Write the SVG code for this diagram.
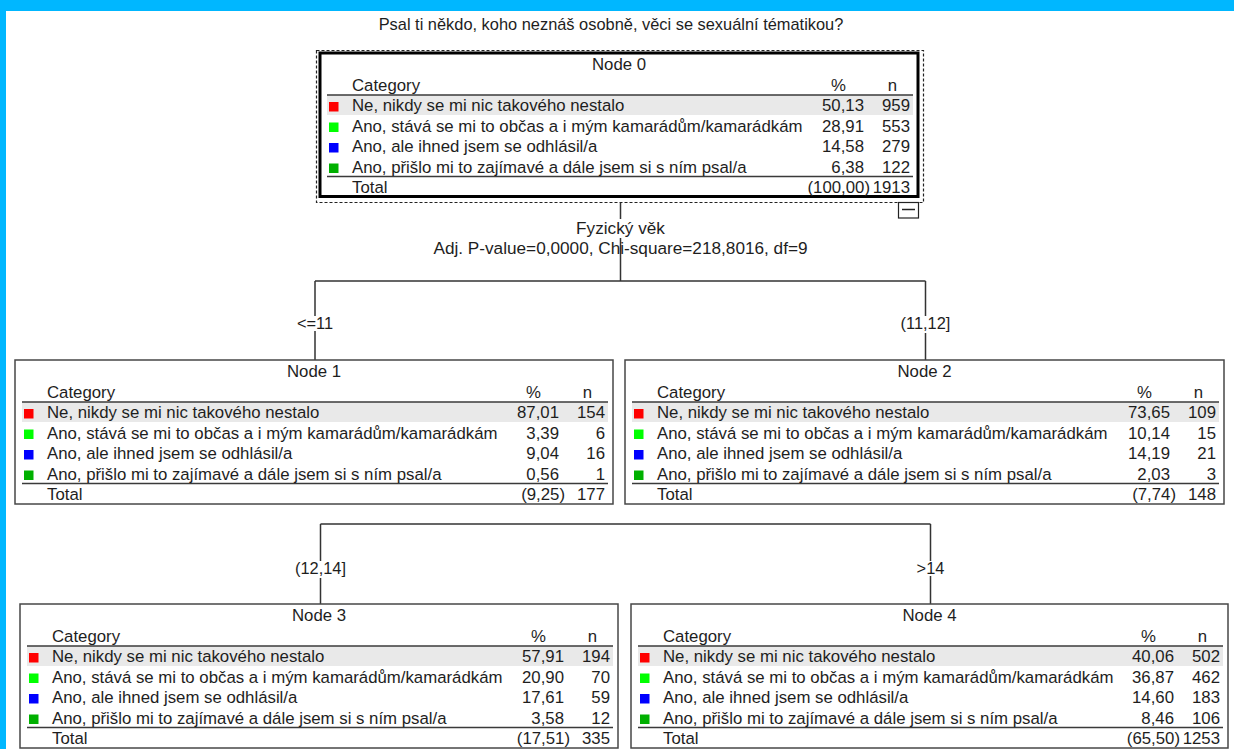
<svg xmlns="http://www.w3.org/2000/svg" width="1234" height="749" viewBox="0 0 1234 749">
<style>
text{font-family:"Liberation Sans",Arial,sans-serif;fill:#1e1e1e}
.t{font-size:16.8px}
.l{font-size:16.4px}
.s{font-size:17.2px}
.m{text-anchor:middle}
.e{text-anchor:end}
.box{fill:#fff;stroke:#474747;stroke-width:1.5}
.box0{fill:#fff;stroke:#000;stroke-width:3}
.hl{fill:#e9e9e9}
.rule{stroke:#3a3a3a;stroke-width:1.6}
.con{fill:none;stroke:#333;stroke-width:1.5}
.r{fill:#ff0000}.g{fill:#00ff00}.b{fill:#0000ff}.d{fill:#00b000}
</style>
<rect x="0" y="0" width="1234" height="749" fill="#00b7ff"/>
<rect x="6" y="11" width="1228" height="738" fill="#fff"/>
<text class="l m" x="611" y="29.5">Psal ti někdo, koho neznáš osobně, věci se sexuální tématikou?</text>

<g id="connectors">
<path class="con" d="M620.5,203 V281 M315,281 H925.5 M315,281 V360 M925.5,281 V360"/>
<path class="con" d="M320.5,524 H930.5 M320.5,524 V604 M930.5,524 V604"/>
<rect x="570" y="219" width="101" height="19" fill="#fff"/>
<text class="s m" x="620.5" y="233.5">Fyzický věk</text>
<text class="s m" x="620.5" y="254">Adj. P-value=0,0000, Chi-square=218,8016, df=9</text>
<rect x="296" y="316" width="38" height="15" fill="#fff"/>
<text class="l m" x="315" y="329">&lt;=11</text>
<rect x="900" y="316" width="51" height="17" fill="#fff"/>
<text class="l m" x="925.5" y="329">(11,12]</text>
<rect x="295" y="561" width="51" height="17" fill="#fff"/>
<text class="l m" x="320.5" y="574">(12,14]</text>
<rect x="915" y="561" width="31" height="15" fill="#fff"/>
<text class="l m" x="930.5" y="574">&gt;14</text>
</g>

<g id="node0">
<rect x="316.5" y="50.5" width="607" height="152" fill="none" stroke="#222" stroke-width="1.2" stroke-dasharray="3,2"/>
<rect x="898.5" y="202.5" width="20" height="15.5" fill="#fff" stroke="#222" stroke-width="1.2"/>
<line x1="902" y1="209.5" x2="915" y2="209.5" stroke="#222" stroke-width="1.5"/>
<g transform="translate(320,53)">
<rect class="box0" x="0" y="0" width="598" height="143.5"/>
<rect class="hl" x="7" y="42" width="586" height="20"/>
<line class="rule" x1="7" y1="42" x2="593" y2="42"/>
<line class="rule" x1="7" y1="123.5" x2="593" y2="123.5"/>
<text class="t m" x="299" y="17">Node 0</text>
<text class="t" x="32" y="38">Category</text>
<text class="t e" x="526" y="38">%</text>
<text class="t e" x="577" y="38">n</text>
<rect class="r" x="9" y="49" width="9.5" height="9.5"/>
<rect class="g" x="9" y="69.5" width="9.5" height="9.5"/>
<rect class="b" x="9" y="90" width="9.5" height="9.5"/>
<rect class="d" x="9" y="110.5" width="9.5" height="9.5"/>
<text class="t" x="32" y="58">Ne, nikdy se mi nic takového nestalo</text>
<text class="t" x="32" y="78.5">Ano, stává se mi to občas a i mým kamarádům/kamarádkám</text>
<text class="t" x="32" y="99">Ano, ale ihned jsem se odhlásil/a</text>
<text class="t" x="32" y="119.5">Ano, přišlo mi to zajímavé a dále jsem si s ním psal/a</text>
<text class="t" x="32" y="139.5">Total</text>
<text class="t e" x="544" y="58">50,13</text><text class="t e" x="590" y="58">959</text>
<text class="t e" x="544" y="78.5">28,91</text><text class="t e" x="590" y="78.5">553</text>
<text class="t e" x="544" y="99">14,58</text><text class="t e" x="590" y="99">279</text>
<text class="t e" x="544" y="119.5">6,38</text><text class="t e" x="590" y="119.5">122</text>
<text class="t e" x="550" y="139.5">(100,00)</text><text class="t e" x="590" y="139.5">1913</text>
</g>
</g>

<g id="node1" transform="translate(15,360)">
<rect class="box" x="0" y="0" width="598" height="144"/>
<rect class="hl" x="7" y="42" width="586" height="20"/>
<line class="rule" x1="7" y1="42" x2="593" y2="42"/>
<line class="rule" x1="7" y1="123.5" x2="593" y2="123.5"/>
<text class="t m" x="299" y="17">Node 1</text>
<text class="t" x="32" y="38">Category</text>
<text class="t e" x="526" y="38">%</text>
<text class="t e" x="577" y="38">n</text>
<rect class="r" x="9" y="49" width="9.5" height="9.5"/>
<rect class="g" x="9" y="69.5" width="9.5" height="9.5"/>
<rect class="b" x="9" y="90" width="9.5" height="9.5"/>
<rect class="d" x="9" y="110.5" width="9.5" height="9.5"/>
<text class="t" x="32" y="58">Ne, nikdy se mi nic takového nestalo</text>
<text class="t" x="32" y="78.5">Ano, stává se mi to občas a i mým kamarádům/kamarádkám</text>
<text class="t" x="32" y="99">Ano, ale ihned jsem se odhlásil/a</text>
<text class="t" x="32" y="119.5">Ano, přišlo mi to zajímavé a dále jsem si s ním psal/a</text>
<text class="t" x="32" y="139.5">Total</text>
<text class="t e" x="544" y="58">87,01</text><text class="t e" x="590" y="58">154</text>
<text class="t e" x="544" y="78.5">3,39</text><text class="t e" x="590" y="78.5">6</text>
<text class="t e" x="544" y="99">9,04</text><text class="t e" x="590" y="99">16</text>
<text class="t e" x="544" y="119.5">0,56</text><text class="t e" x="590" y="119.5">1</text>
<text class="t e" x="550" y="139.5">(9,25)</text><text class="t e" x="590" y="139.5">177</text>
</g>

<g id="node2" transform="translate(625,360)">
<rect class="box" x="0" y="0" width="599" height="144"/>
<rect class="hl" x="7" y="42" width="587" height="20"/>
<line class="rule" x1="7" y1="42" x2="594" y2="42"/>
<line class="rule" x1="7" y1="123.5" x2="594" y2="123.5"/>
<text class="t m" x="299.5" y="17">Node 2</text>
<text class="t" x="32" y="38">Category</text>
<text class="t e" x="527" y="38">%</text>
<text class="t e" x="578" y="38">n</text>
<rect class="r" x="9" y="49" width="9.5" height="9.5"/>
<rect class="g" x="9" y="69.5" width="9.5" height="9.5"/>
<rect class="b" x="9" y="90" width="9.5" height="9.5"/>
<rect class="d" x="9" y="110.5" width="9.5" height="9.5"/>
<text class="t" x="32" y="58">Ne, nikdy se mi nic takového nestalo</text>
<text class="t" x="32" y="78.5">Ano, stává se mi to občas a i mým kamarádům/kamarádkám</text>
<text class="t" x="32" y="99">Ano, ale ihned jsem se odhlásil/a</text>
<text class="t" x="32" y="119.5">Ano, přišlo mi to zajímavé a dále jsem si s ním psal/a</text>
<text class="t" x="32" y="139.5">Total</text>
<text class="t e" x="545" y="58">73,65</text><text class="t e" x="591" y="58">109</text>
<text class="t e" x="545" y="78.5">10,14</text><text class="t e" x="591" y="78.5">15</text>
<text class="t e" x="545" y="99">14,19</text><text class="t e" x="591" y="99">21</text>
<text class="t e" x="545" y="119.5">2,03</text><text class="t e" x="591" y="119.5">3</text>
<text class="t e" x="551" y="139.5">(7,74)</text><text class="t e" x="591" y="139.5">148</text>
</g>

<g id="node3" transform="translate(20,604)">
<rect class="box" x="0" y="0" width="598" height="144"/>
<rect class="hl" x="7" y="42" width="586" height="20"/>
<line class="rule" x1="7" y1="42" x2="593" y2="42"/>
<line class="rule" x1="7" y1="123.5" x2="593" y2="123.5"/>
<text class="t m" x="299" y="17">Node 3</text>
<text class="t" x="32" y="38">Category</text>
<text class="t e" x="526" y="38">%</text>
<text class="t e" x="577" y="38">n</text>
<rect class="r" x="9" y="49" width="9.5" height="9.5"/>
<rect class="g" x="9" y="69.5" width="9.5" height="9.5"/>
<rect class="b" x="9" y="90" width="9.5" height="9.5"/>
<rect class="d" x="9" y="110.5" width="9.5" height="9.5"/>
<text class="t" x="32" y="58">Ne, nikdy se mi nic takového nestalo</text>
<text class="t" x="32" y="78.5">Ano, stává se mi to občas a i mým kamarádům/kamarádkám</text>
<text class="t" x="32" y="99">Ano, ale ihned jsem se odhlásil/a</text>
<text class="t" x="32" y="119.5">Ano, přišlo mi to zajímavé a dále jsem si s ním psal/a</text>
<text class="t" x="32" y="139.5">Total</text>
<text class="t e" x="544" y="58">57,91</text><text class="t e" x="590" y="58">194</text>
<text class="t e" x="544" y="78.5">20,90</text><text class="t e" x="590" y="78.5">70</text>
<text class="t e" x="544" y="99">17,61</text><text class="t e" x="590" y="99">59</text>
<text class="t e" x="544" y="119.5">3,58</text><text class="t e" x="590" y="119.5">12</text>
<text class="t e" x="550" y="139.5">(17,51)</text><text class="t e" x="590" y="139.5">335</text>
</g>

<g id="node4" transform="translate(631,604)">
<rect class="box" x="0" y="0" width="597" height="144"/>
<rect class="hl" x="7" y="42" width="585" height="20"/>
<line class="rule" x1="7" y1="42" x2="592" y2="42"/>
<line class="rule" x1="7" y1="123.5" x2="592" y2="123.5"/>
<text class="t m" x="298.5" y="17">Node 4</text>
<text class="t" x="32" y="38">Category</text>
<text class="t e" x="525" y="38">%</text>
<text class="t e" x="576" y="38">n</text>
<rect class="r" x="9" y="49" width="9.5" height="9.5"/>
<rect class="g" x="9" y="69.5" width="9.5" height="9.5"/>
<rect class="b" x="9" y="90" width="9.5" height="9.5"/>
<rect class="d" x="9" y="110.5" width="9.5" height="9.5"/>
<text class="t" x="32" y="58">Ne, nikdy se mi nic takového nestalo</text>
<text class="t" x="32" y="78.5">Ano, stává se mi to občas a i mým kamarádům/kamarádkám</text>
<text class="t" x="32" y="99">Ano, ale ihned jsem se odhlásil/a</text>
<text class="t" x="32" y="119.5">Ano, přišlo mi to zajímavé a dále jsem si s ním psal/a</text>
<text class="t" x="32" y="139.5">Total</text>
<text class="t e" x="543" y="58">40,06</text><text class="t e" x="589" y="58">502</text>
<text class="t e" x="543" y="78.5">36,87</text><text class="t e" x="589" y="78.5">462</text>
<text class="t e" x="543" y="99">14,60</text><text class="t e" x="589" y="99">183</text>
<text class="t e" x="543" y="119.5">8,46</text><text class="t e" x="589" y="119.5">106</text>
<text class="t e" x="549" y="139.5">(65,50)</text><text class="t e" x="589" y="139.5">1253</text>
</g>
</svg>
